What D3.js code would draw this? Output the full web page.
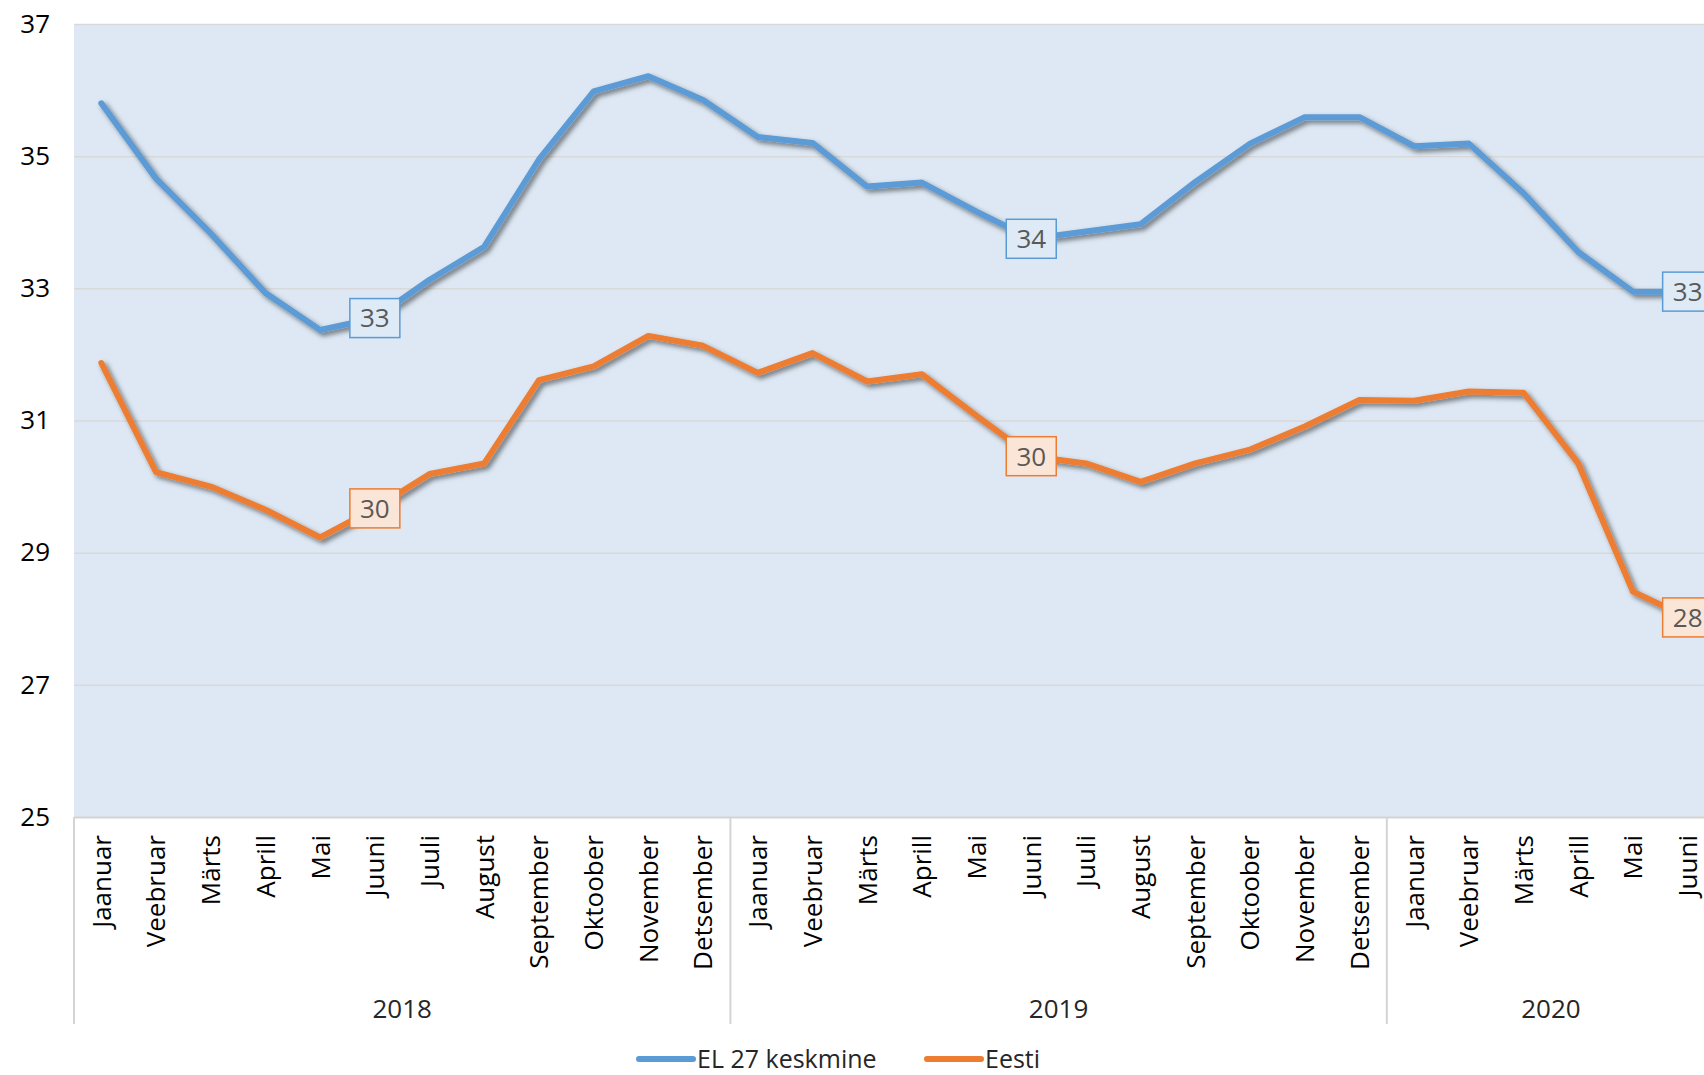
<!DOCTYPE html>
<html>
<head>
<meta charset="utf-8">
<script src="https://cdn.jsdelivr.net/npm/d3@7"></script>
<style>
  html, body { margin: 0; padding: 0; background: #fff; overflow: hidden; }
  #chart { width: 1704px; height: 1075px; }
  text { font-family: "Open Sans", "Noto Sans", sans-serif; }
</style>
</head>
<body>
<div id="chart"></div>
<script>
// values
const monthNames = ["Jaanuar", "Veebruar", "Märts", "Aprill", "Mai", "Juuni",
  "Juuli", "August", "September", "Oktoober", "November", "Detsember"];
const years = ["2018", "2019", "2020"];
const monthsPerYear = [12, 12, 6];

const euAverage = [35.80, 34.66, 33.83, 32.93, 32.37, 32.55, 33.13, 33.63, 34.95, 35.98, 36.21, 35.85,
  35.29, 35.20, 34.54, 34.60, 34.16, 33.75, 33.86, 33.97, 34.61, 35.19, 35.59, 35.59,
  35.15, 35.19, 34.44, 33.55, 32.95, 32.95];
const estonia = [31.87, 30.22, 30.00, 29.65, 29.23, 29.67, 30.19, 30.35, 31.61, 31.82, 32.28, 32.13,
  31.72, 32.02, 31.59, 31.70, 31.07, 30.46, 30.35, 30.07, 30.35, 30.56, 30.91, 31.31,
  31.30, 31.44, 31.42, 30.35, 28.41, 28.02];

const seriesNames = ["EL 27 keskmine", "Eesti"];
const labelIndexes = [5, 17, 29]; // Juuni of each year gets a data label
const yTicks = [25, 27, 29, 31, 33, 35, 37];

const width = 1704;
const height = 1075;
const margin = {top: 24, left: 74};
const plotRight = 1715; // plot runs past the right edge of the picture
const plotBottom = 817;

const colors = ["#5b9bd5", "#ed7d31"];
const labelFills = ["#deebf7", "#fbe5d6"];

// build category list: one entry per month
const categories = [];
years.forEach((year, yi) => {
  d3.range(monthsPerYear[yi]).forEach(m => {
    categories.push({year: year, month: monthNames[m]});
  });
});

const series = [euAverage, estonia].map((values, i) => ({
  name: seriesNames[i],
  color: colors[i],
  labelFill: labelFills[i],
  values: values
}));

const svg = d3.select("#chart")
  .append("svg")
    .attr("width", width)
    .attr("height", height)
    .attr("viewBox", `0 0 ${width} ${height}`);

const defs = svg.append("defs");
defs.append("filter")
    .attr("id", "shadow")
    .attr("x", "-5%").attr("y", "-5%")
    .attr("width", "110%").attr("height", "110%")
  .append("feDropShadow")
    .attr("dx", 3)
    .attr("dy", 3)
    .attr("stdDeviation", 2.5)
    .attr("flood-color", "#000")
    .attr("flood-opacity", 0.5);

const xScale = d3.scaleBand()
  .domain(d3.range(categories.length))
  .range([margin.left, plotRight])
  .padding(0);
const xCenter = i => xScale(i) + xScale.bandwidth() / 2;

const yScale = d3.scaleLinear()
  .domain([25, 37])
  .range([plotBottom, margin.top]);

// plot background
svg.append("rect")
    .attr("x", margin.left)
    .attr("y", margin.top)
    .attr("width", plotRight - margin.left)
    .attr("height", plotBottom - margin.top)
    .attr("fill", "#dde8f4");

// gridlines + y tick labels
const yAxis = d3.axisLeft(yScale)
  .tickValues(yTicks)
  .tickSize(-(plotRight - margin.left))
  .tickPadding(24);

svg.append("g")
    .attr("transform", `translate(${margin.left},0)`)
    .call(yAxis)
    .call(g => g.select(".domain").remove())
    .call(g => g.selectAll(".tick line")
      .attr("stroke", d => d === 25 ? "#d4d4d4" : "#d9d9d9")
      .attr("stroke-width", d => d === 25 ? 2 : 1.5))
    .call(g => g.selectAll(".tick text")
      .attr("fill", "#000")
      .style("font-size", "26px"));

// month labels, rotated
svg.append("g")
  .selectAll("text")
  .data(categories)
  .join("text")
    .attr("transform", (d, i) => `translate(${xCenter(i)}, 835) rotate(-90)`)
    .attr("text-anchor", "end")
    .attr("dy", "0.36em")
    .attr("fill", "#000")
    .style("font-size", "26px")
    .text(d => d.month);

// year groups: dividers and labels
const yearStarts = [];
let start = 0;
monthsPerYear.forEach(n => { yearStarts.push(start); start += n; });

svg.append("g")
  .selectAll("line")
  .data(yearStarts)
  .join("line")
    .attr("x1", d => xScale(d))
    .attr("x2", d => xScale(d))
    .attr("y1", plotBottom)
    .attr("y2", 1024)
    .attr("stroke", "#d4d4d4")
    .attr("stroke-width", 2);

svg.append("g")
  .selectAll("text")
  .data(years)
  .join("text")
    .attr("x", (d, i) => {
      const first = yearStarts[i];
      const last = first + monthsPerYear[i] - 1;
      return (xScale(first) + xScale(last) + xScale.bandwidth()) / 2;
    })
    .attr("y", 1018)
    .attr("text-anchor", "middle")
    .attr("fill", "#262626")
    .style("font-size", "26px")
    .text(d => d);

// lines
const lineGenerator = d3.line()
  .x((d, i) => xCenter(i))
  .y(d => yScale(d));

svg.append("g")
  .selectAll("path")
  .data(series)
  .join("path")
    .attr("d", d => lineGenerator(d.values))
    .attr("fill", "none")
    .attr("stroke", d => d.color)
    .attr("stroke-width", 6)
    .attr("stroke-linejoin", "round")
    .attr("stroke-linecap", "round")
    .attr("filter", "url(#shadow)");

// data labels on the Juuni points
series.forEach(s => {
  const labels = svg.append("g")
    .selectAll("g")
    .data(labelIndexes)
    .join("g")
      .attr("transform", i => `translate(${xCenter(i)}, ${yScale(s.values[i])})`);

  labels.append("rect")
      .attr("x", -25)
      .attr("y", -19.5)
      .attr("width", 50)
      .attr("height", 39)
      .attr("fill", s.labelFill)
      .attr("stroke", s.color)
      .attr("stroke-width", 1.5);

  labels.append("text")
      .text(i => d3.format(".0f")(s.values[i]))
      .attr("text-anchor", "middle")
      .attr("dy", "0.36em")
      .attr("fill", "#595959")
      .style("font-size", "26px");
});

// legend
const legend = svg.append("g")
  .selectAll("g")
  .data(series)
  .join("g")
    .attr("transform", (d, i) => `translate(${i === 0 ? 639 : 927}, 1059)`);

legend.append("line")
    .attr("x1", 0)
    .attr("x2", 54)
    .attr("stroke", d => d.color)
    .attr("stroke-width", 6)
    .attr("stroke-linecap", "round");

legend.append("text")
    .attr("x", 58)
    .attr("dy", "0.36em")
    .attr("fill", "#262626")
    .style("font-size", "25px")
    .text(d => d.name);
</script>
</body>
</html>
